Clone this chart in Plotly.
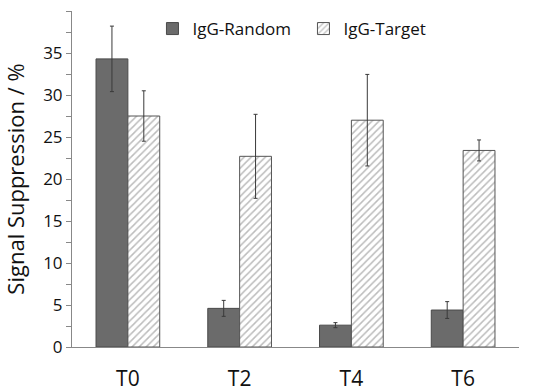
import plotly.graph_objects as go

categories = ["T0", "T2", "T4", "T6"]
random_vals = [34.3, 4.6, 2.6, 4.4]
random_err = [3.9, 0.95, 0.3, 1.0]
target_vals = [27.5, 22.7, 27.0, 23.4]
target_err = [3.0, 5.0, 5.45, 1.25]

fig = go.Figure()
fig.add_trace(go.Bar(
    x=categories, y=random_vals, name="IgG-Random",
    marker=dict(color="#6b6b6b", line=dict(color="#4a4a4a", width=1)),
    error_y=dict(type="data", array=random_err, color="#3a3a3a", thickness=1, width=2),
))
fig.add_trace(go.Bar(
    x=categories, y=target_vals, name="IgG-Target",
    marker=dict(color="white", line=dict(color="#555555", width=1),
                pattern=dict(shape="/", fgcolor="#7a7a7a", bgcolor="white", size=5, solidity=0.3)),
    error_y=dict(type="data", array=target_err, color="#3a3a3a", thickness=1, width=2),
))

fig.update_layout(
    width=535, height=392,
    margin=dict(l=72, r=16, t=11, b=45),
    paper_bgcolor="white", plot_bgcolor="white",
    barmode="group", bargap=0.43, bargroupgap=0,
    font=dict(family="Open Sans, Liberation Sans, sans-serif", color="#111111"),
    showlegend=True,
    legend=dict(orientation="h", x=0.18, y=1.0, xanchor="left", yanchor="top",
                font=dict(size=17), bgcolor="rgba(0,0,0,0)", entrywidth=106),
)
fig.update_xaxes(
    showline=True, linecolor="#888888", linewidth=1, ticks="",
    tickfont=dict(size=21), ticklabelstandoff=13, showgrid=False, automargin=False,
)
fig.update_yaxes(
    range=[0, 40], dtick=5, showline=True, linecolor="#888888", linewidth=1,
    ticks="outside", ticklen=5, tickcolor="#888888", showgrid=False, zeroline=False,
    tickfont=dict(size=17), automargin=False,
    minor=dict(ticks="outside", dtick=2.5, ticklen=5, tickcolor="#888888"),
    title=dict(text="Signal Suppression / %", font=dict(size=22), standoff=14),
)

# page body has a default 8px margin; drop it so the figure sits at 0,0
fig.write_html("out.html", config={"displayModeBar": False},
               post_script="document.body.style.margin='0';")
